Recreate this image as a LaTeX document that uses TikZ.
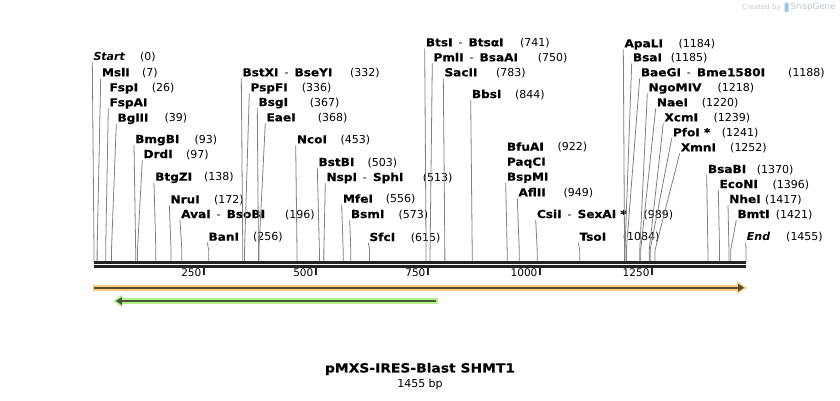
\documentclass[tikz,border=0pt]{standalone}
\usepackage{fontspec}
\setmainfont{DejaVu Sans}[BoldFeatures={FakeStretch=1.1,FakeBold=0.4}]
\usepackage{tikz}

\definecolor{axisdark}{RGB}{35,35,35}
\definecolor{sitegray}{RGB}{128,128,128}
\definecolor{orangeband}{RGB}{250,205,122}
\definecolor{orangeline}{RGB}{90,74,54}
\definecolor{greenband}{RGB}{180,242,138}
\definecolor{greenline}{RGB}{76,88,62}
\definecolor{wmgray}{RGB}{200,200,200}
\definecolor{wmblue}{RGB}{150,200,235}

\newcommand{\enzsep}{\hspace{6pt}{\mdseries -}\hspace{6pt}}

\tikzset{
	enzyme/.style={anchor=base west, inner sep=0pt, font=\fontsize{11}{13}\selectfont\bfseries},
	bppos/.style={anchor=base west, inner sep=0pt, font=\fontsize{11}{13}\selectfont},
	ticklabel/.style={anchor=east, inner sep=0pt, font=\fontsize{10.5}{12}\selectfont},
	cutline/.style={draw=sitegray, line width=0.8pt},
}

\begin{document}
\begin{tikzpicture}[x=1pt,y=-1pt]
	\useasboundingbox (0,0) rectangle (840,400);

	% sequence axis
	\draw[axisdark, line width=3pt] (94,262.2) -- (746,262.2);
	\draw[axisdark, line width=2.5pt] (94,266.5) -- (746,266.5);
	\foreach \t in {250,500,750,1000,1250}{
		\coordinate (t\t) at ({94+0.4481*\t-2},267.5);
		\draw[axisdark, line width=2pt] (t\t) -- ++(0,7);
		\node[ticklabel] (tl\t) at ({94+0.4481*\t-4.5},272.5) {\t};
	}

	% enzyme sites: name / bp / label x / label y / position / position x / line
	\foreach \nm/\bp/\lx/\ly/\num/\nx/\ln [count=\i] in {
		{\itshape Start}/0/93.3/56/(0)/140/1,
		MslI/7/101.7/72.3/(7)/142/1,
		FspI/26/109.3/87.3/(26)/151.7/0,
		FspAI/26/109.3/102.3//0/1,
		BglII/39/117.3/117.7/(39)/164.3/1,
		BmgBI/93/135/139/(93)/194.3/1,
		DrdI/97/143.3/154/(97)/186/1,
		BtgZI/138/155/176.7/(138)/204/1,
		NruI/172/170.3/199.3/(172)/214/1,
		AvaI\enzsep BsoBI/196/181/214/(196)/285/1,
		BanI/256/208.3/236.7/(256)/253/1,
		BstXI\enzsep BseYI/332/242.3/72.3/(332)/350/1,
		PspFI/336/250.3/87.3/(336)/301.7/1,
		BsgI/367/258.3/102/(367)/309.7/1,
		EaeI/368/266.3/117.3/(368)/317.7/1,
		NcoI/453/296.7/139.3/(453)/340.3/1,
		BstBI/503/318.3/162/(503)/367.3/1,
		NspI\enzsep SphI/513/326.3/177/(513)/422.7/1,
		MfeI/556/342.7/198.7/(556)/385.7/1,
		BsmI/573/350.7/214/(573)/398.3/1,
		SfcI/615/369.3/237/(615)/410.7/1,
		BtsI\enzsep BtsαI/741/425.7/42.3/(741)/520/1,
		PmlI\enzsep BsaAI/750/433.3/57.3/(750)/537.7/1,
		SacII/783/444.3/72.3/(783)/496/1,
		BbsI/844/471.7/94/(844)/515/1,
		BfuAI/922/506.7/146.7/(922)/557.3/0,
		PaqCI/922/506.7/161.7//0/0,
		BspMI/922/506.7/176.7//0/1,
		AflII/949/518.3/192.3/(949)/563.3/1,
		CsiI\enzsep SexAI~*/989/536.7/214/(989)/643.3/1,
		TsoI/1084/579.3/236.7/(1084)/622.7/1,
		ApaLI/1184/624.3/43.3/(1184)/678.3/1,
		BsaI/1185/632.7/57.3/(1185)/670.7/1,
		BaeGI\enzsep Bme1580I/1188/640.7/72.3/(1188)/788/1,
		NgoMIV/1218/648.3/87.3/(1218)/717.3/1,
		NaeI/1220/656.7/102.3/(1220)/701.7/1,
		XcmI/1239/664.3/117.3/(1239)/713.3/1,
		PfoI~*/1241/672.7/132.3/(1241)/721.7/1,
		XmnI/1252/680.7/147.3/(1252)/730/1,
		BsaBI/1370/707.7/169/(1370)/756.7/1,
		EcoNI/1396/719.3/184/(1396)/772.3/1,
		NheI/1417/729/199/(1417)/765/1,
		BmtI/1421/737.3/214/(1421)/775.7/1,
		{\itshape End}/1455/746.7/236.7/(1455)/786/1}{
		\coordinate (s\i) at ({94+0.4481*\bp},261);
		\node[enzyme] (n\i) at (\lx,\ly+4) {\nm};
		\node[bppos] (p\i) at (\nx,\ly+4) {\num};
		\ifnum\ln=1
			\draw[cutline] (s\i) -- ++(0,-11) -- ([shift={(-1,2)}]n\i.base west);
		\fi
	}

	% features
	\fill[orangeband] (93,284.6) rectangle (739,290.8);
	\fill[orangeband] (737,281.5) -- (747,287.7) -- (737,293.9) -- cycle;
	\draw[orangeline, line width=2pt] (94,287.7) -- (739,287.7);
	\fill[orangeline] (738,283.6) -- (744,287.7) -- (738,291.8) -- cycle;

	\fill[greenband] (438,297.9) rectangle (120,304.1);
	\fill[greenband] (122,294.8) -- (113,301) -- (122,307.2) -- cycle;
	\draw[greenline, line width=2pt] (436,301) -- (121,301);
	\fill[greenline] (122,296.9) -- (116,301) -- (122,305.1) -- cycle;

	% title
	\node[font=\fontsize{12.6}{15}\selectfont\bfseries] (title) at (420,369) {pMXS-IRES-Blast SHMT1};
	\node[font=\fontsize{11}{13}\selectfont] (size) at (420,384) {1455 bp};

	% watermark
	\node[anchor=west, inner sep=0pt, text=wmgray, font=\fontsize{7}{8}\selectfont] (credit) at (742,7.5) {Created by};
	\fill[wmblue, rounded corners=1pt] (784.5,2.5) rectangle (788.5,12);
	\node[anchor=west, inner sep=0pt, text=wmgray!80!wmblue, font=\fontsize{8.7}{10}\selectfont] (snapgene) at (790.5,7.5) {SnapGene};
\end{tikzpicture}
\end{document}
